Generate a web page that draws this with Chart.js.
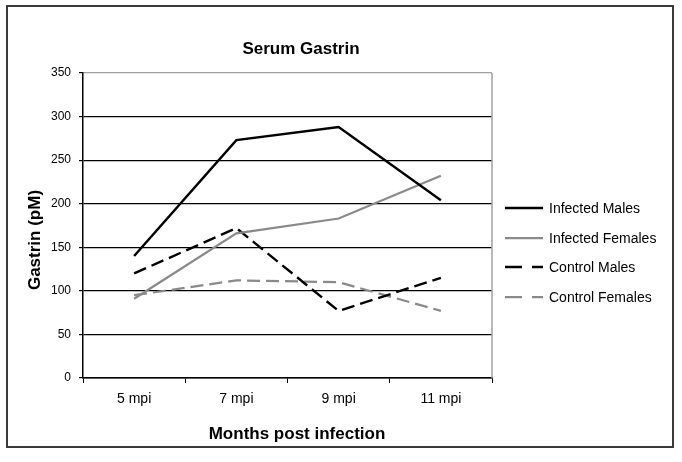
<!DOCTYPE html>
<html>
<head>
<meta charset="utf-8">
<script src="https://cdn.jsdelivr.net/npm/chart.js@4/dist/chart.umd.min.js"></script>
<style>
  html, body { margin: 0; padding: 0; background: #fff; }
  #c { display: block; }
</style>
</head>
<body>
<canvas id="c" width="682" height="462"></canvas>
<script>
const categories = ["5 mpi", "7 mpi", "9 mpi", "11 mpi"];
const infectedMales = [140, 273, 288, 204];
const infectedFemales = [91, 166, 183, 232];
const controlMales = [120, 172, 77, 115];
const controlFemales = [95, 112, 110, 77];
const yTicks = [0, 50, 100, 150, 200, 250, 300, 350];
const chartTitle = "Serum Gastrin";
const xTitle = "Months post infection";
const yTitle = "Gastrin (pM)";

const FONT = "'Liberation Sans', Arial, sans-serif";

const framePlugin = {
  id: 'frame',
  beforeDraw(chart) {
    const ctx = chart.ctx;
    ctx.save();
    ctx.fillStyle = '#fff';
    ctx.fillRect(0, 0, chart.width, chart.height);
    ctx.strokeStyle = '#3a3a3a';
    ctx.lineWidth = 2;
    ctx.strokeRect(7, 6, 666, 441);
    ctx.restore();
  },
  afterDraw(chart) {
    const ctx = chart.ctx;
    const a = chart.chartArea;
    ctx.save();
    // right border of plot area
    ctx.strokeStyle = '#a0a0a0';
    ctx.lineWidth = 1.5;
    ctx.beginPath();
    ctx.moveTo(a.right, a.top);
    ctx.lineTo(a.right, a.bottom);
    ctx.stroke();
    // titles
    ctx.fillStyle = '#000';
    ctx.textAlign = 'center';
    ctx.textBaseline = 'middle';
    ctx.font = 'bold 17px ' + FONT;
    ctx.fillText(chartTitle, 301, 49);
    ctx.fillText(xTitle, 297, 434);
    ctx.translate(35, 240);
    ctx.rotate(-Math.PI / 2);
    ctx.fillText(yTitle, 0, 0);
    ctx.restore();
    // legend
    ctx.save();
    const rows = [208, 238, 267, 297];
    chart.data.datasets.forEach((ds, i) => {
      const y = rows[i];
      ctx.strokeStyle = ds.borderColor;
      ctx.lineWidth = ds.borderWidth;
      ctx.setLineDash(ds.borderDash ? [17, 10] : []);
      ctx.lineDashOffset = 0;
      ctx.beginPath();
      ctx.moveTo(505, y);
      ctx.lineTo(543, y);
      ctx.stroke();
      ctx.setLineDash([]);
      ctx.fillStyle = '#000';
      ctx.font = '14px ' + FONT;
      ctx.textAlign = 'left';
      ctx.textBaseline = 'middle';
      ctx.fillText(ds.label, 549, y + 1);
    });
    ctx.restore();
  }
};

new Chart(document.getElementById('c'), {
  type: 'line',
  data: {
    labels: categories,
    datasets: [
      { label: 'Infected Males', data: infectedMales, borderColor: '#000000', borderWidth: 2.4 },
      { label: 'Infected Females', data: infectedFemales, borderColor: '#8a8a8a', borderWidth: 2.25 },
      { label: 'Control Males', data: controlMales, borderColor: '#000000', borderWidth: 2.4, borderDash: [13, 6] },
      { label: 'Control Females', data: controlFemales, borderColor: '#8a8a8a', borderWidth: 2.25, borderDash: [13, 6] }
    ]
  },
  options: {
    responsive: false,
    animation: false,
    devicePixelRatio: 1,
    layout: { padding: { top: 73, right: 190, left: 0, bottom: 0 } },
    elements: {
      point: { radius: 0, hoverRadius: 0 },
      line: { tension: 0, fill: false, borderCapStyle: 'butt', borderJoinStyle: 'miter' }
    },
    plugins: {
      legend: { display: false },
      title: { display: false },
      tooltip: { enabled: false }
    },
    scales: {
      x: {
        type: 'category',
        offset: true,
        afterFit(scale) { scale.height = 84; },
        grid: { display: true, offset: true, drawOnChartArea: false, drawTicks: true, tickLength: 5, tickColor: '#000', color: '#000' },
        border: { display: true, color: '#000', width: 1.5 },
        ticks: { color: '#000', font: { family: FONT, size: 14 }, padding: 8, maxRotation: 0 }
      },
      y: {
        min: 0,
        max: 350,
        afterFit(scale) { scale.width = 83; },
        afterBuildTicks(scale) { scale.ticks = yTicks.map(v => ({ value: v })); },
        grid: {
          color: (c) => (c.tick && c.tick.value === 350 ? '#a0a0a0' : '#000'),
          lineWidth: 1.2,
          tickColor: '#000',
          tickLength: 4,
          drawTicks: true
        },
        border: { display: true, color: '#000', width: 1.5 },
        ticks: { color: '#000', font: { family: FONT, size: 12 }, padding: 8 }
      }
    }
  },
  plugins: [framePlugin]
});
</script>
</body>
</html>
